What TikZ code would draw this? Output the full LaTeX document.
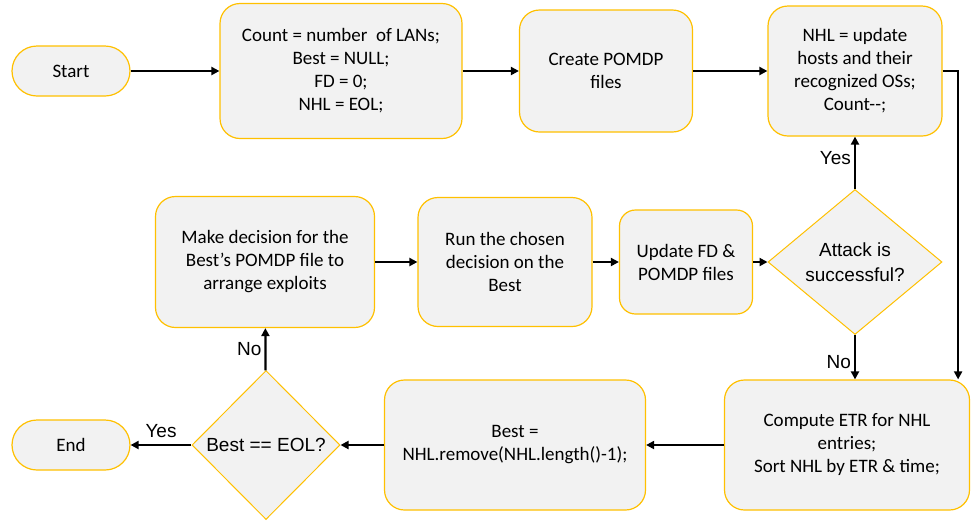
\documentclass[tikz,border=0pt]{standalone}
\usepackage{fontspec}
\setmainfont{Carlito}
\newfontfamily\arialfont{Liberation Sans}
\usepackage{xcolor}
\usetikzlibrary{positioning, arrows.meta, shapes.geometric}

\definecolor{boxfill}{HTML}{F2F2F2}
\definecolor{boxline}{HTML}{FFC000}

\tikzset{
  block/.style={draw=boxline, fill=boxfill, line width=1.2pt, rounded corners=20pt,
    align=center, font=\fontsize{19}{23}\selectfont},
  term/.style={block, rounded corners=25pt, minimum width=118pt, minimum height=50pt},
  decision/.style={diamond, draw=boxline, fill=boxfill, line width=1pt, inner sep=0pt,
    align=center, font=\arialfont\fontsize{19}{25}\selectfont},
  lbl/.style={font=\arialfont\fontsize{19}{22}\selectfont, inner sep=3pt}
}

\begin{document}
\begin{tikzpicture}[->,>={Triangle[length=8pt,width=8pt]},line width=2.2pt,auto,x=1pt,y=-1pt]
    \useasboundingbox (0,0) rectangle (976,523);

    % top row
    \node[term] (start) at (71,71) {Start};
    \node[block, minimum width=242pt, minimum height=135pt] (init) at (341,71)
        {Count = number\ \ of LANs;\\ Best = NULL;\\ FD = 0;\\ NHL = EOL;};
    \node[block, minimum width=173pt, minimum height=122pt] (create) at (606,71)
        {Create POMDP\\ files};
    \node[block, minimum width=174pt, minimum height=130pt] (nhl) at (855,71)
        {NHL = update\\ hosts and their\\ recognized OSs;\\ Count-{}-;};

    % middle row
    \node[block, minimum width=219pt, minimum height=131pt] (decide) at (265,262)
        {Make decision for the\\ Best’s POMDP file to\\ arrange exploits};
    \node[block, minimum width=174pt, minimum height=129pt] (run) at (505,262)
        {Run the chosen\\ decision on the\\ Best};
    \node[block, minimum width=133pt, minimum height=104pt, rounded corners=16pt] (update) at (686,262)
        {Update FD \&\\ POMDP files};
    \node[decision, minimum width=174pt, minimum height=145pt] (attack) at (855,262)
        {Attack is\\ successful?};

    % bottom row
    \node[term] (end) at (71,445) {End};
    \node[decision, minimum width=148pt, minimum height=149pt] (eol) at (266,445)
        {Best == EOL?};
    \node[block, minimum width=261pt, minimum height=130pt] (best) at (515,445)
        {Best =\\ NHL.remove(NHL.length()-1);};
    \node[block, minimum width=245pt, minimum height=130pt] (etr) at (847,445)
        {Compute ETR for NHL\\ entries;\\ Sort NHL by ETR \& time;};

    \path (start) edge (init)
          (init) edge (create)
          (create) edge (nhl)
          (attack) edge node[lbl,pos=0.6] {Yes} (nhl)
          (decide) edge (run)
          (run) edge (update)
          (update) edge (attack)
          (etr) edge (best)
          (best) edge (eol)
          (eol) edge node[lbl,swap,inner sep=6pt] {Yes} (end)
          (eol) edge node[lbl] {No} (decide);

    \draw (attack.south) -- node[lbl,swap,pos=0.6] {No} (attack.south |- etr.north);
    \draw (nhl.east) -| ([xshift=-12pt]etr.north east);
\end{tikzpicture}
\end{document}
